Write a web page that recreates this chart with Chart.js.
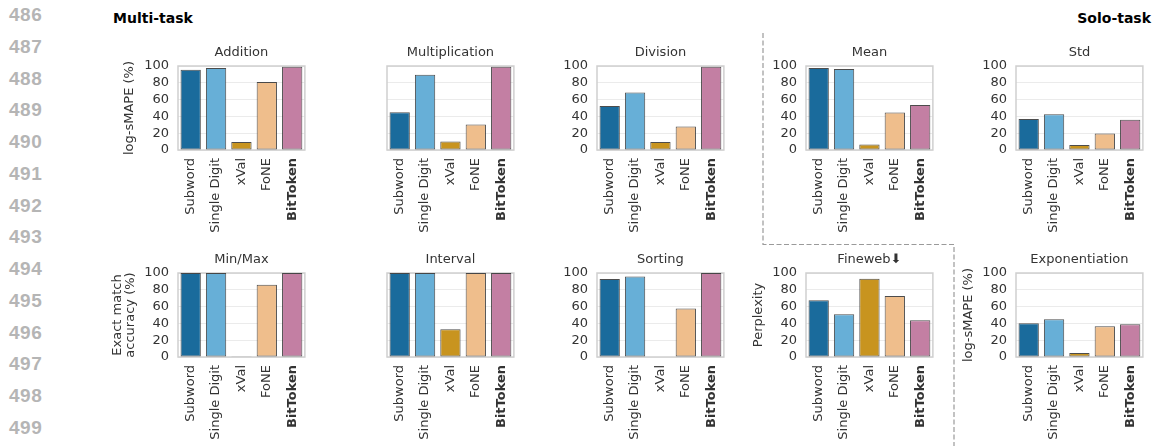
<!DOCTYPE html>
<html>
<head>
<meta charset="utf-8">
<script src="https://cdn.jsdelivr.net/npm/chart.js@4/dist/chart.umd.min.js"></script>
<style>
  html, body { margin: 0; padding: 0; background: #fff; }
  #page { position: relative; width: 1153px; height: 446px; overflow: hidden; background: #fff; }
  canvas { position: absolute; }
  .ln { position: absolute; left: 9px; font-family: 'Liberation Sans', Arial, sans-serif; font-weight: bold;
        font-size: 19px; color: #b5b5b5; line-height: 20px; height: 20px; letter-spacing: 0.5px; }
  .grp { position: absolute; font-family: 'DejaVu Sans', sans-serif; font-weight: bold; font-size: 14px;
         color: #000; line-height: 16px; }
  svg { position: absolute; left: 0; top: 0; }
</style>
</head>
<body>
<div id="page">
  <svg width="1153" height="446">
    <polyline points="763,33 763,244.5 954,244.5 954,446" fill="none" stroke="#9a9a9a"
              stroke-width="1.2" stroke-dasharray="5 2.5"/>
  </svg>
  <div class="grp" style="left:113px; top:10px;">Multi-task</div>
  <div class="grp" style="right:2px; top:10px;">Solo-task</div>
</div>
<script>
// ---- data ----
const methods = ['Subword', 'Single Digit', 'xVal', 'FoNE', 'BitToken'];
const yTicks = [0, 20, 40, 60, 80, 100];
const lineNumbers = ['486','487','488','489','490','491','492','493','494','495','496','497','498','499'];

const addition       = [95.5, 97.5, 9.5, 81.0, 99.0];
const multiplication = [45.0, 89.5, 10.0, 30.5, 99.0];
const division       = [52.5, 68.5, 9.5, 28.0, 99.0];
const mean           = [97.5, 96.5, 6.5, 44.5, 53.5];
const std            = [37.0, 42.5, 6.0, 19.5, 36.0];
const minMax         = [100, 100, 0.8, 86.0, 100];
const interval       = [100, 100, 33.0, 100, 100];
const sorting        = [93.0, 95.7, 0.6, 57.7, 100];
const fineweb        = [67.7, 51.0, 93.3, 72.5, 43.7];
const exponentiation = [40.2, 44.8, 4.8, 36.5, 39.0];

// ---- style ----
const barColors = ['#1a6b9c', '#67afd7', '#c8941f', '#efbe8c', '#c37fa3'];
const page = document.getElementById('page');

lineNumbers.forEach((t, i) => {
  const d = document.createElement('div');
  d.className = 'ln';
  d.textContent = t;
  d.style.top = (15 + 31.75 * i - 10) + 'px';
  page.appendChild(d);
});

const panels = [
  { title: 'Addition',       data: addition,       L: 178,  T: 66,  yt: true,  ytitle: 'log-sMAPE (%)', tp: 14.2 },
  { title: 'Multiplication', data: multiplication, L: 387,  T: 66,  yt: false },
  { title: 'Division',       data: division,       L: 597,  T: 66,  yt: true },
  { title: 'Mean',           data: mean,           L: 806,  T: 66,  yt: true },
  { title: 'Std',            data: std,            L: 1016, T: 66,  yt: true },
  { title: 'Min/Max',        data: minMax,         L: 178,  T: 273, yt: true,  ytitle: ['Exact match', 'accuracy (%)'], tp: 3, lh: 1.0 },
  { title: 'Interval',       data: interval,       L: 387,  T: 273, yt: false },
  { title: 'Sorting',        data: sorting,        L: 597,  T: 273, yt: true },
  { title: 'Fineweb\u2B07',  data: fineweb,        L: 806,  T: 273, yt: true,  ytitle: 'Perplexity', tp: 15.2 },
  { title: 'Exponentiation', data: exponentiation, L: 1016, T: 273, yt: true,  ytitle: 'log-sMAPE (%)', tp: 15.2 },
];

const AXW = 70, PW = 137, PH = 84, TITLEH = 26, XAH = 90, RP = 2;

const framePlugin = {
  id: 'frame',
  beforeDatasetsDraw(chart) {
    const { ctx, chartArea: a } = chart;
    ctx.save();
    ctx.strokeStyle = '#cfcfcf';
    ctx.lineWidth = 1.5;
    ctx.strokeRect(a.left, a.top, a.right - a.left, a.bottom - a.top);
    ctx.restore();
  }
};

Chart.defaults.font.family = 'DejaVu Sans';
Chart.defaults.color = '#333';

panels.forEach(p => {
  const c = document.createElement('canvas');
  const w = AXW + PW + RP, h = TITLEH + PH + XAH;
  c.width = w; c.height = h;
  c.style.width = w + 'px'; c.style.height = h + 'px';
  c.style.left = (p.L - AXW) + 'px';
  c.style.top = (p.T - TITLEH) + 'px';
  page.appendChild(c);

  new Chart(c, {
    type: 'bar',
    data: {
      labels: methods,
      datasets: [{
        data: p.data,
        backgroundColor: barColors,
        borderColor: 'rgba(45,45,45,0.85)',
        borderWidth: 1,
        borderSkipped: false,
        barPercentage: 0.8,
        categoryPercentage: 1.0
      }]
    },
    options: {
      responsive: false,
      animation: false,
      devicePixelRatio: 1,
      layout: { padding: { left: 0, right: RP, top: 0, bottom: 0 } },
      plugins: {
        legend: { display: false },
        tooltip: { enabled: false },
        title: {
          display: true,
          fullSize: false,
          text: p.title,
          color: '#333',
          font: { size: 13, weight: 'normal', lineHeight: 1.2 },
          padding: { top: 4.4, bottom: 6 }
        }
      },
      scales: {
        x: {
          grid: { display: false, drawTicks: false },
          border: { display: false },
          ticks: {
            autoSkip: false,
            minRotation: 90,
            maxRotation: 90,
            padding: 8,
            color: '#333',
            font: (ctx) => ({ size: 13, weight: ctx.index === 4 ? 'bold' : 'normal' })
          },
          afterFit: (s) => { s.height = XAH; }
        },
        y: {
          min: 0, max: 100,
          afterBuildTicks: (s) => { s.ticks = yTicks.map(v => ({ value: v })); },
          grid: { color: '#ebebeb', lineWidth: 1, drawTicks: false },
          border: { display: false },
          ticks: {
            display: p.yt,
            autoSkip: false,
            padding: 9,
            color: '#333',
            font: { size: 13 }
          },
          title: p.ytitle ? {
            display: true,
            text: p.ytitle,
            color: '#333',
            font: { size: 13, lineHeight: p.lh || 1.2 },
            padding: { top: p.tp, bottom: 0 }
          } : { display: false },
          afterFit: (s) => { s.width = AXW; }
        }
      }
    },
    plugins: [framePlugin]
  });
});
</script>
</body>
</html>
